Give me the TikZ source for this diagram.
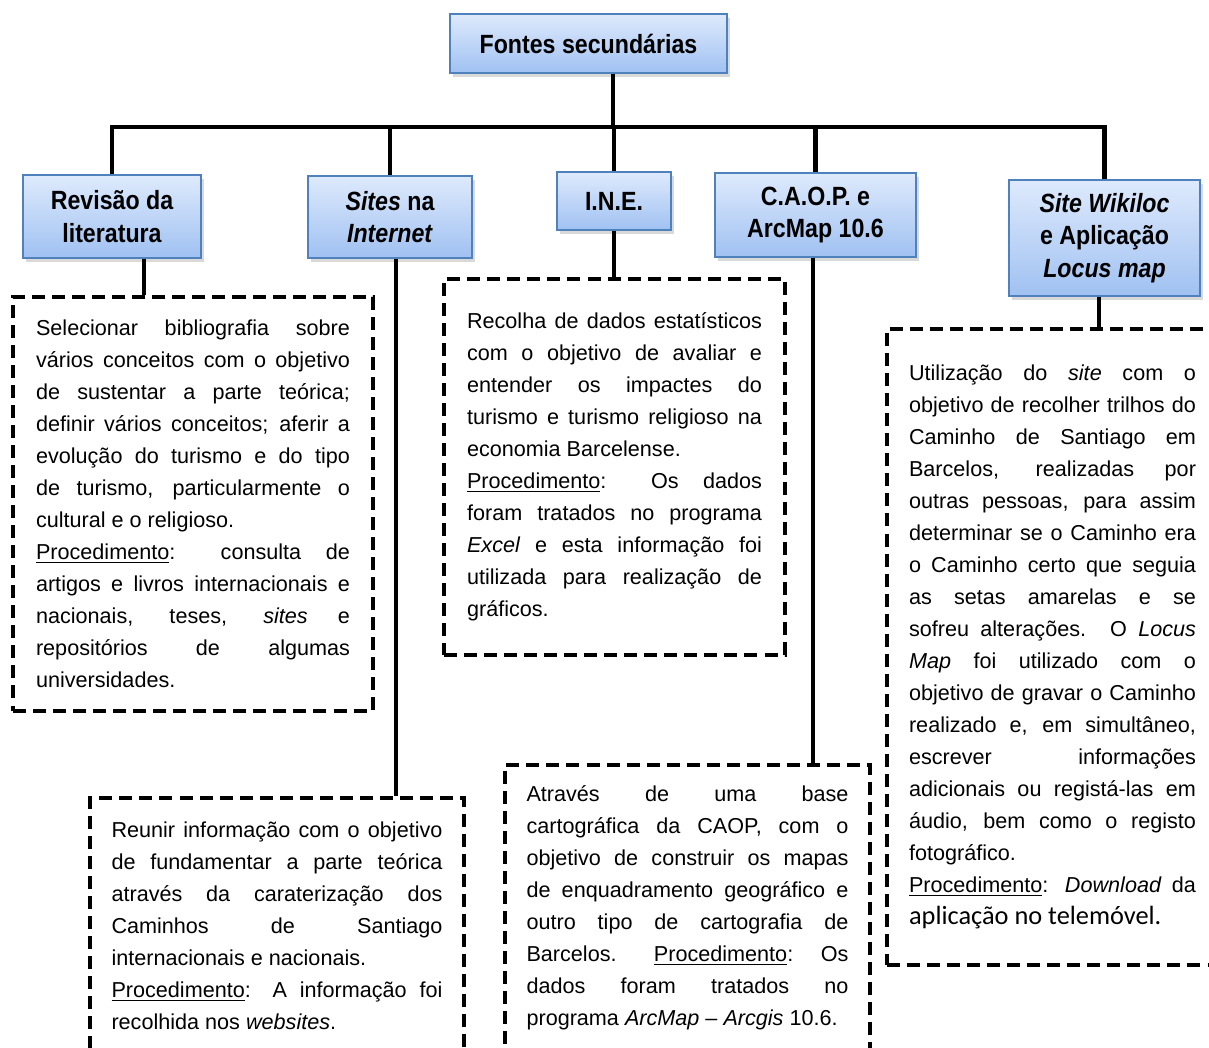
\documentclass[tikz,border=0pt]{standalone}
\usepackage{fontspec}
\setmainfont{Liberation Sans}
\newfontfamily\headfont[FakeStretch=0.88]{Liberation Sans}
\newfontfamily\calibrifont{Carlito}
\usetikzlibrary{shadows}
\definecolor{boxborder}{RGB}{79,129,189}
\definecolor{boxtop}{RGB}{222,234,252}
\definecolor{boxbottom}{RGB}{160,193,242}
\setlength{\parindent}{0pt}
\hyphenpenalty=10000
\exhyphenpenalty=10000

\begin{document}
\begin{tikzpicture}
        [x=0.02cm,y=-0.02cm,
        boxdecorate/.style={draw=boxborder,line width=0.8pt,top color=boxtop,bottom color=boxbottom,
          drop shadow={opacity=0.3,shadow xshift=1.5pt,shadow yshift=-2pt},
          align=center,inner sep=2pt,font=\headfont\bfseries\fontsize{15}{18.4}\selectfont},%
        notedecorate/.style={draw,line width=2.4pt,dash pattern=on 7.4pt off 4pt,
          align=justify,inner sep=0pt,font=\fontsize{12.3}{18.2}\selectfont},%
        linedecorate/.style={-,line width=2.8pt}]
        \useasboundingbox (0,0) rectangle (1209,1047);
        \clip (0,0) rectangle (1209,1047);
        %% header boxes
        \node (fontes) at (588.5,43.5) [boxdecorate,minimum width=5.54cm,minimum height=1.18cm] {Fontes secundárias};
        \node (revisao) at (112,216.5) [boxdecorate,minimum width=3.56cm,minimum height=1.66cm] {Revisão da\\literatura};
        \node (sites) at (390,217) [boxdecorate,minimum width=3.28cm,minimum height=1.64cm] {\textit{Sites} na\\\textit{Internet}};
        \node (ine) at (614,201) [boxdecorate,minimum width=2.28cm,minimum height=1.16cm] {I.N.E.};
        \node (caop) at (815.5,215) [boxdecorate,minimum width=4.02cm,minimum height=1.68cm] {C.A.O.P. e\\ArcMap 10.6};
        \node (wikiloc) at (1104.5,238) [boxdecorate,minimum width=3.82cm,minimum height=2.32cm] {\textit{Site Wikiloc}\\e Aplicação\\\textit{Locus map}};
        %% note boxes
        \node (notarevisao) at (193,504) [notedecorate,minimum width=7.2cm,minimum height=8.28cm,text width=6.28cm]
        {Selecionar bibliografia sobre\linebreak
          vários conceitos com o objetivo\linebreak
          de sustentar a parte teórica;\linebreak
          definir vários conceitos; aferir a\linebreak
          evolução do turismo e do tipo\linebreak
          de turismo, particularmente o\linebreak
          cultural e o religioso.\\
          \underline{Procedimento}: consulta de\linebreak
          artigos e livros internacionais e\linebreak
          nacionais, teses, \textit{sites} e\linebreak
          repositórios de algumas\linebreak
          universidades.};
        \node (notasites) at (277,926) [notedecorate,minimum width=7.48cm,minimum height=5.12cm,text width=6.62cm]
        {Reunir informação com o objetivo\linebreak
          de fundamentar a parte teórica\linebreak
          através da caraterização dos\linebreak
          Caminhos de Santiago\linebreak
          internacionais e nacionais.\\
          \underline{Procedimento}: A informação foi\linebreak
          recolhida nos \textit{websites}.};
        \node (notaine) at (614.5,467) [notedecorate,minimum width=6.82cm,minimum height=7.52cm,text width=5.9cm]
        {Recolha de dados estatísticos\linebreak
          com o objetivo de avaliar e\linebreak
          entender os impactes do\linebreak
          turismo e turismo religioso na\linebreak
          economia Barcelense.\\
          \underline{Procedimento}: Os dados\linebreak
          foram tratados no programa\linebreak
          \textit{Excel} e esta informação foi\linebreak
          utilizada para realização de\linebreak
          gráficos.};
        \node (notacaop) at (687.5,908) [notedecorate,minimum width=7.3cm,minimum height=5.72cm,text width=6.44cm]
        {Através de uma base\linebreak
          cartográfica da CAOP, com o\linebreak
          objetivo de construir os mapas\linebreak
          de enquadramento geográfico e\linebreak
          outro tipo de cartografia de\linebreak
          Barcelos. \underline{Procedimento}: Os\linebreak
          dados foram tratados no\linebreak
          programa \textit{ArcMap} – \textit{Arcgis} 10.6.};
        \node (notawikiloc) at (1052.5,647) [notedecorate,minimum width=6.62cm,minimum height=12.72cm,text width=5.74cm]
        {Utilização do \textit{site} com o\linebreak
          objetivo de recolher trilhos do\linebreak
          Caminho de Santiago em\linebreak
          Barcelos, realizadas por\linebreak
          outras pessoas, para assim\linebreak
          determinar se o Caminho era\linebreak
          o Caminho certo que seguia\linebreak
          as setas amarelas e se\linebreak
          sofreu alterações. O \textit{Locus}\linebreak
          \textit{Map} foi utilizado com o\linebreak
          objetivo de gravar o Caminho\linebreak
          realizado e, em simultâneo,\linebreak
          escrever informações\linebreak
          adicionais ou registá-las em\linebreak
          áudio, bem como o registo\linebreak
          fotográfico.\\
          \underline{Procedimento}: \textit{Download} da\linebreak
          {\calibrifont\fontsize{15}{18.2}\selectfont aplicação no telemóvel.}};
        %% lines
        \coordinate (bus) at (613,127);
        \draw[linedecorate] (fontes.south -| bus) -- (bus);
        \draw[linedecorate] (revisao.north) |- (wikiloc.north |- bus) -- (wikiloc.north);
        \path
        \foreach \boxname in {sites, ine, caop}
        {
          (\boxname.north |- bus) edge[linedecorate] (\boxname.north)
        };
        \foreach \boxname/\notename/\dx in {revisao/notarevisao/0.64, sites/notasites/0.12, ine/notaine/0,
          caop/notacaop/-0.05, wikiloc/notawikiloc/-0.11}
        {
          \draw[linedecorate] ([xshift=\dx cm]\boxname.south) -- ([xshift=\dx cm]\boxname.south |- \notename.north);
        }
\end{tikzpicture}
\end{document}
